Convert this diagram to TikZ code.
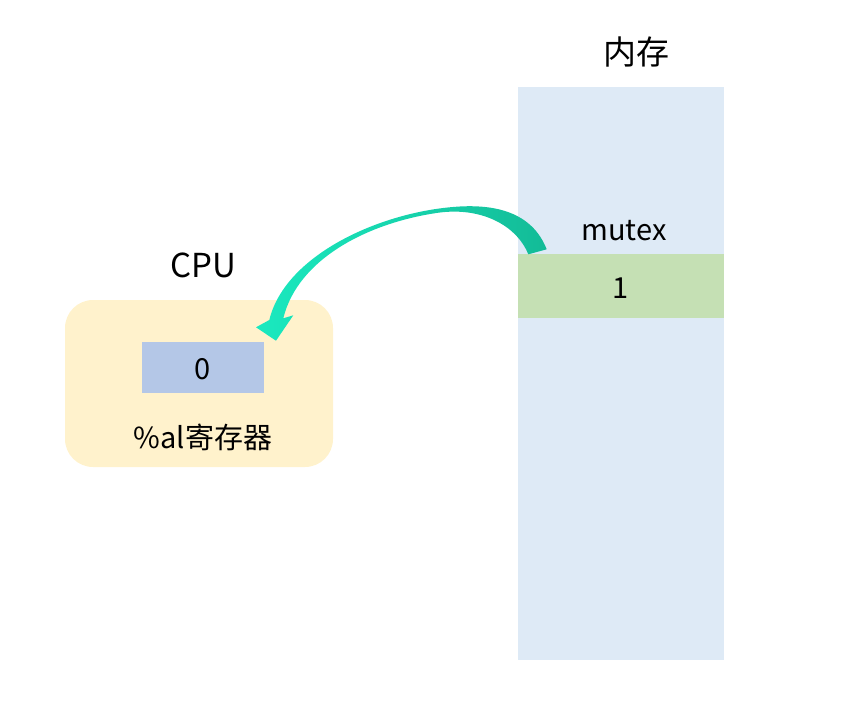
\documentclass[tikz,border=0pt]{standalone}
\usepackage{fontspec}
\setmainfont{Noto Sans CJK SC}
\usetikzlibrary{positioning}
\definecolor{memblue}{HTML}{DEEAF6}
\definecolor{cellgreen}{HTML}{C5E0B4}
\definecolor{cpuyellow}{HTML}{FFF2CC}
\definecolor{regblue}{HTML}{B4C7E7}
\definecolor{arrowlight}{HTML}{1AE9BF}
\definecolor{arrowdark}{HTML}{13BB97}
\tikzset{
  block/.style={draw=none, inner sep=0pt, outer sep=0pt},
  label text/.style={font=\fontsize{29}{34}\selectfont, text=black, inner sep=0pt},
  title text/.style={font=\fontsize{33}{38}\selectfont, text=black, inner sep=0pt},
}
\begin{document}
\begin{tikzpicture}[x=1pt, y=-1pt]
  \useasboundingbox (0,0) rectangle (862,706);
  % memory column and the mutex cell
  \node[block, fill=memblue, anchor=north west, minimum width=206pt, minimum height=573pt] (mem) at (518,87) {};
  \node[block, fill=cellgreen, anchor=north west, minimum width=206pt, minimum height=64pt] (cell) at (518,254) {};
  \node[title text] (memtitle) at (636,52) {内存};
  \node[label text] (mutex) at (624,231) {mutex};
  \node[label text] (one) at (621,288) {1};
  % CPU with its %al register
  \node[block, fill=cpuyellow, rounded corners=28pt, anchor=north west, minimum width=268pt, minimum height=167pt] (cpu) at (65,300) {};
  \node[title text] (cputitle) at (203,265) {CPU};
  \node[block, fill=regblue, anchor=north west, minimum width=122pt, minimum height=51pt] (reg) at (142,342) {};
  \node[label text] (zero) at (203,369) {0};
  \node[label text] (regname) at (203,437) {\%al寄存器};
  % curved arrow from the mutex cell to the register
  \coordinate (tailout) at (546.7,249.3);
  \coordinate (tailin) at (528.3,254.3);
  \coordinate (tip) at (276,340.7);
  \shade[left color=arrowlight, right color=arrowdark, middle color=arrowlight!55!arrowdark]
    (tailout) .. controls (532,212) and (495,204) .. (456.7,206.7)
    .. controls (380,212) and (285,255) .. (269.3,320)
    -- (256,327.3) -- (tip) -- (293.3,315.3) -- (283.3,318.3)
    .. controls (298,258) and (370,222) .. (440,212.5)
    .. controls (485,207) and (518,228) .. (tailin) -- cycle;
\end{tikzpicture}
\end{document}
